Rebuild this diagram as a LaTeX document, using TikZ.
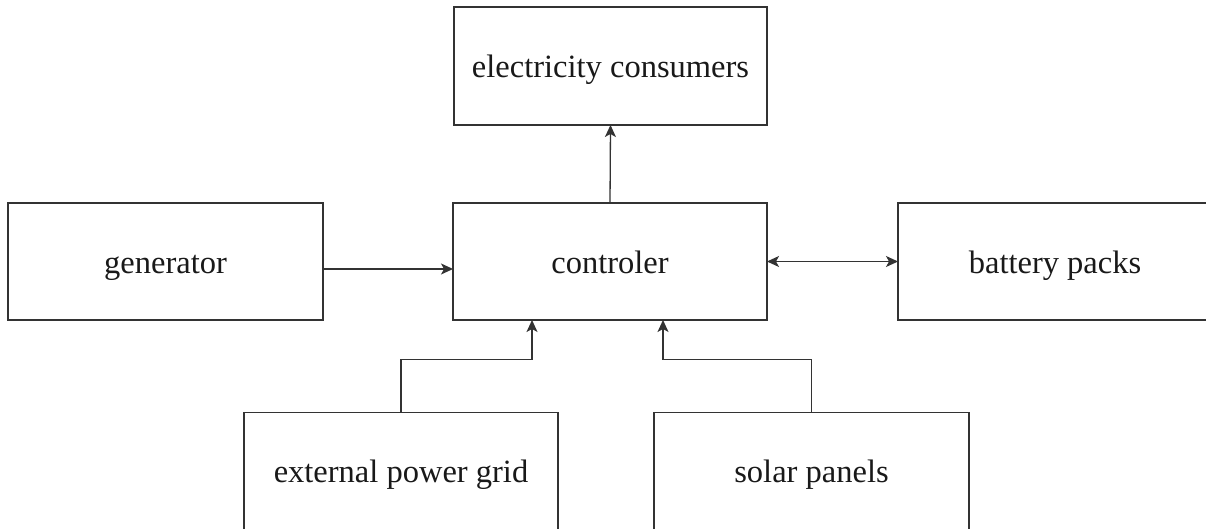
\documentclass[tikz,border=0pt]{standalone}
\usepackage{fontspec}
\setmainfont{Liberation Serif}
\usetikzlibrary{arrows.meta}
\begin{document}
\begin{tikzpicture}[x=1pt,y=-1pt,
  box/.style={draw=black!80, line width=1.2pt, rectangle, inner sep=0pt, outer sep=0pt,
    minimum width=314pt, minimum height=117pt, text=black!90,
    text height=28pt, text depth=5pt,
    font=\fontsize{32.5}{39}\selectfont},
  tip/.tip={Stealth[length=12pt,width=11pt,inset=3pt]},
  arr/.style={draw=black!80, line width=1.3pt, -tip},
  biarr/.style={draw=black!80, line width=1.3pt, tip-tip}]
\clip (0,0) rectangle (1206,529);
\fill[white] (0,0) rectangle (1206,529);
\node[box, minimum width=313pt, minimum height=118pt] (cons) at (610.5,66) {electricity consumers};
\node[box] (ctrl) at (610,261.5) {controler};
\node[box, minimum width=315pt] (gen) at (165.5,261.5) {generator};
\node[box] (bat) at (1055,261.5) {battery packs};
\node[box] (grid) at (401,471) {external power grid};
\node[box, minimum width=315pt] (solar) at (811.5,471) {solar panels};
\draw[arr] ([yshift=-7.5pt]gen.east) -- ([yshift=-7.5pt]ctrl.west);
\draw[biarr] (ctrl.east) -- (bat.west);
\draw[arr] (ctrl.north) -- (cons.south);
\draw[arr] (grid.north) -- ++(0,-53) -| ([xshift=-78pt]ctrl.south);
\draw[arr] (solar.north) -- ++(0,-53) -| ([xshift=53pt]ctrl.south);
\end{tikzpicture}
\end{document}
